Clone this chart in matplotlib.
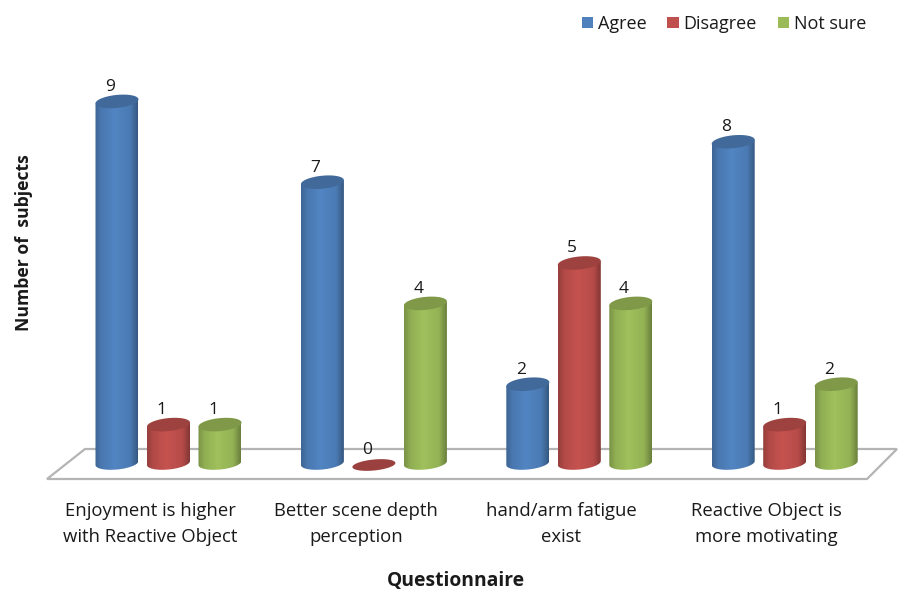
"""Grouped cylinder chart of the questionnaire answers."""

import numpy as np
import matplotlib
matplotlib.use("Agg")
import matplotlib.pyplot as plt
from matplotlib.colors import LinearSegmentedColormap, to_rgb
from matplotlib.patches import PathPatch, Polygon, Patch
from matplotlib.path import Path

questions = ["Enjoyment is higher\nwith Reactive Object",
             "Better scene depth\nperception",
             "hand/arm fatigue\nexist",
             "Reactive Object is\nmore motivating"]
series_names = ["Agree", "Disagree", "Not sure"]
agree = [9, 7, 2, 8]
disagree = [1, 0, 5, 1]
not_sure = [1, 4, 4, 2]
colors = ["#4F81BD", "#C0504D", "#9BBB59"]

W, H = 898, 590
GROUP_PX = 205.4
UNIT_PX = 40.4
X0_PX = 168.5
Y0_PX = 465
BAR_STEP = 51.5 / GROUP_PX
HALF_W = 21.5 / GROUP_PX
HALF_H = 6.5 / UNIT_PX
TILT = 2.0 / UNIT_PX
BASE_DROP = 2.0 / UNIT_PX

plt.rcParams["font.family"] = ["Open Sans", "DejaVu Sans"]

fig = plt.figure(figsize=(W / 100, H / 100), dpi=100)
ax = fig.add_axes([0, 0, 1, 1])
ax.set_xlim(-X0_PX / GROUP_PX, (W - X0_PX) / GROUP_PX)
ax.set_ylim((Y0_PX - H) / UNIT_PX, Y0_PX / UNIT_PX)
ax.axis("off")


def ring(cx, cy, hh, t):
    """Points of a slightly tilted ellipse, for angles t."""
    return np.column_stack([cx + HALF_W * np.cos(t),
                            cy + hh * np.sin(t) + TILT * np.cos(t)])


def shade(color, factor):
    return tuple(min(1, c * factor) for c in to_rgb(color))


def draw_cylinder(cx, value, color):
    if value == 0:
        t = np.linspace(0, 2 * np.pi, 80)
        ax.add_patch(Polygon(ring(cx, 0, 5.5 / UNIT_PX, t),
                             fc=shade(color, 0.8), ec="none", zorder=3))
        return

    lower = ring(cx, BASE_DROP, HALF_H, np.linspace(0, -np.pi, 50))
    upper = ring(cx, value, HALF_H, np.array([np.pi, 0]))
    side = np.vstack([lower, upper])
    outline = Path(np.vstack([side, side[:1]]), closed=True)

    cmap = LinearSegmentedColormap.from_list("body", [
        (0.0, shade(color, 0.78)), (0.15, shade(color, 0.93)),
        (0.45, shade(color, 1.03)), (0.82, shade(color, 0.95)),
        (1.0, shade(color, 0.68))])
    im = ax.imshow(np.linspace(0, 1, 128)[None, :], cmap=cmap, aspect="auto",
                   extent=(cx - HALF_W, cx + HALF_W, -1, value + 1),
                   interpolation="bilinear", zorder=3)
    im.set_clip_path(PathPatch(outline, transform=ax.transData))

    top = ring(cx, value, HALF_H, np.linspace(0, 2 * np.pi, 80))
    ax.add_patch(Polygon(top, fc=shade(color, 0.82), ec="none", zorder=4))


# floor of the chart
floor = [(-X0_PX / GROUP_PX + 47 / GROUP_PX, -14 / UNIT_PX),
         (-X0_PX / GROUP_PX + 867 / GROUP_PX, -14 / UNIT_PX),
         (-X0_PX / GROUP_PX + 897 / GROUP_PX, 16 / UNIT_PX),
         (-X0_PX / GROUP_PX + 85 / GROUP_PX, 16 / UNIT_PX)]
ax.add_patch(Polygon(floor, closed=True, fc="white", ec="#b4b4b4", lw=1.6,
                     zorder=1, clip_on=False))

for j, values in enumerate([agree, disagree, not_sure]):
    for i, value in enumerate(values):
        cx = i + (j - 1) * BAR_STEP
        draw_cylinder(cx, value, colors[j])
        ax.text(cx - 7 / GROUP_PX, value + 0.36, str(value), ha="center",
                va="center", fontsize=12.5, color="#1a1a1a", zorder=5)

for i, question in enumerate(questions):
    ax.text(i - 18 / GROUP_PX, -0.92, question, ha="center", va="top",
            fontsize=13.3, color="#1a1a1a", linespacing=1.56)

ax.text(456 / W, 1 - 581 / H, "Questionnaire", transform=ax.transAxes,
        ha="center", va="center", fontsize=13.9, fontweight="bold",
        color="#1a1a1a")
ax.text(24 / W, 1 - 243 / H, "Number of  subjects", transform=ax.transAxes,
        rotation=90, ha="center", va="center", fontsize=12.7, fontweight="bold",
        color="#1a1a1a")

handles = [Patch(fc=c, ec="none") for c in colors]
ax.legend(handles, series_names, ncol=3, frameon=False, fontsize=13,
          loc="center", bbox_to_anchor=(724 / W, 1 - 24 / H),
          handlelength=0.62, handleheight=0.62, handletextpad=0.28,
          columnspacing=1.15, labelcolor="#1a1a1a")

fig.savefig("out.png", dpi=100)
